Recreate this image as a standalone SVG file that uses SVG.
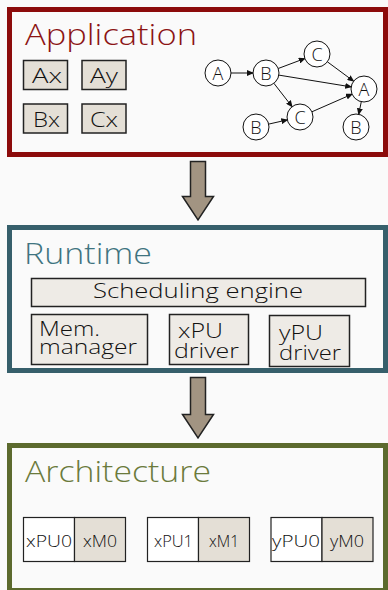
<svg xmlns="http://www.w3.org/2000/svg" width="388" height="590" viewBox="0 0 388 590">
  <style>
    text { font-family: "Open Sans", "Lato", "DejaVu Sans", sans-serif; font-weight: 300; fill: #111; }
    .title { font-size: 30px; }
    .item { fill: #e4dfd6; stroke: #222; stroke-width: 1.5; }
    .part { fill: #eeebe6; stroke: #222; stroke-width: 1.5; }
    .pu { fill: #ffffff; stroke: #222; stroke-width: 1.2; }
    .mem { fill: #e4dfd6; stroke: #222; stroke-width: 1.2; }
    .node circle { fill: #fff; stroke: #111; stroke-width: 1; }
    .node text { font-size: 18px; text-anchor: middle; }
    .edge { stroke: #111; stroke-width: 1; fill: none; marker-end: url(#tip); }
    .flow { fill: #a29482; stroke: #222; stroke-width: 1.5; stroke-linejoin: miter; }
    .lbl { font-size: 21px; }
    .rt { font-size: 20px; }
    .hw { font-size: 17px; }
  </style>
  <defs>
    <marker id="tip" markerUnits="userSpaceOnUse" markerWidth="7" markerHeight="6" refX="6" refY="3" orient="auto">
      <path d="M0,0 L7,3 L0,6 Z" fill="#111"/>
    </marker>
  </defs>

  <rect width="388" height="590" fill="#fafafa"/>

  <!-- Application layer -->
  <g id="application">
    <rect x="9.5" y="9.5" width="376" height="145" fill="#fafafa" stroke="#8c0b0b" stroke-width="5"/>
    <text class="title" x="25" y="45" style="fill:#8c1414" textLength="172" lengthAdjust="spacingAndGlyphs">Application</text>
    <g id="task-ax"><rect class="item" x="23.5" y="60.5" width="44" height="29"/><text class="lbl" x="32" y="83" textLength="30" lengthAdjust="spacingAndGlyphs">Ax</text></g>
    <g id="task-ay"><rect class="item" x="82" y="60.5" width="44" height="29"/><text class="lbl" x="90" y="83" textLength="28" lengthAdjust="spacingAndGlyphs">Ay</text></g>
    <g id="task-bx"><rect class="item" x="23.5" y="104" width="44" height="29"/><text class="lbl" x="33" y="127" textLength="27" lengthAdjust="spacingAndGlyphs">Bx</text></g>
    <g id="task-cx"><rect class="item" x="82" y="104" width="44" height="29"/><text class="lbl" x="90" y="127" textLength="28" lengthAdjust="spacingAndGlyphs">Cx</text></g>
  </g>

  <!-- Task graph edges -->
  <g id="graph-edges">
    <line class="edge" x1="231" y1="73" x2="253" y2="73"/>
    <line class="edge" x1="278.2" y1="68.5" x2="304.8" y2="58.5"/>
    <line class="edge" x1="278.8" y1="75.1" x2="351.2" y2="86.9"/>
    <line class="edge" x1="273.9" y1="83.3" x2="292.1" y2="106.7"/>
    <line class="edge" x1="327.4" y1="61.8" x2="353.6" y2="81.2"/>
    <line class="edge" x1="268.7" y1="124.1" x2="287.3" y2="119.9"/>
    <line class="edge" x1="311.9" y1="111.8" x2="352.1" y2="94.2"/>
    <line class="edge" x1="361.3" y1="101.7" x2="358.7" y2="114.3"/>
  </g>

  <!-- Task graph nodes -->
  <g id="g-a1" class="node"><circle cx="218" cy="73" r="13"/><text x="218" y="79.5">A</text></g>
  <g id="g-b1" class="node"><circle cx="266" cy="73" r="13"/><text x="266" y="79.5">B</text></g>
  <g id="g-c1" class="node"><circle cx="317" cy="54" r="13"/><text x="317" y="60.5">C</text></g>
  <g id="g-a2" class="node"><circle cx="364" cy="89" r="13"/><text x="364" y="95.5">A</text></g>
  <g id="g-b2" class="node"><circle cx="256" cy="127" r="13"/><text x="256" y="133.5">B</text></g>
  <g id="g-c2" class="node"><circle cx="300" cy="117" r="13"/><text x="300" y="123.5">C</text></g>
  <g id="g-b3" class="node"><circle cx="356" cy="127" r="13"/><text x="356" y="133.5">B</text></g>

  <!-- Layer arrows -->
  <g id="layer-arrows">
    <path class="flow" d="M190.5,161.5 H205.5 V196.5 H213.5 L198,220 L182.5,196.5 H190.5 Z"/>
    <path class="flow" d="M190.5,377.5 H205.5 V414.5 H213.5 L198,438 L182.5,414.5 H190.5 Z"/>
  </g>

  <!-- Runtime layer -->
  <g id="runtime">
    <rect x="9.5" y="227.5" width="376" height="143" fill="#fafafa" stroke="#365f6b" stroke-width="5"/>
    <text class="title" x="24" y="264" style="fill:#3f7480" textLength="128" lengthAdjust="spacingAndGlyphs">Runtime</text>
    <g id="scheduling-engine"><rect class="part" x="31.5" y="278.5" width="334" height="28"/><text class="rt" x="93" y="298" textLength="210" lengthAdjust="spacingAndGlyphs">Scheduling engine</text></g>
    <g id="mem-manager"><rect class="part" x="31.5" y="314.5" width="116" height="50"/><text class="rt" x="39" y="336" textLength="61" lengthAdjust="spacingAndGlyphs">Mem.</text><text class="rt" x="39" y="354" textLength="98" lengthAdjust="spacingAndGlyphs">manager</text></g>
    <g id="xpu-driver"><rect class="part" x="169.5" y="314.5" width="79" height="50"/><text class="rt" x="178" y="338" textLength="45" lengthAdjust="spacingAndGlyphs">xPU</text><text class="rt" x="174" y="358" textLength="65" lengthAdjust="spacingAndGlyphs">driver</text></g>
    <g id="ypu-driver"><rect class="part" x="269.5" y="315.5" width="80" height="51"/><text class="rt" x="279" y="340" textLength="44" lengthAdjust="spacingAndGlyphs">yPU</text><text class="rt" x="279" y="360" textLength="62" lengthAdjust="spacingAndGlyphs">driver</text></g>
  </g>

  <!-- Architecture layer -->
  <g id="architecture">
    <rect x="9.5" y="445.5" width="376" height="145" fill="#fafafa" stroke="#5c6a2e" stroke-width="5"/>
    <text class="title" x="25" y="482" style="fill:#6b7a3c" textLength="186" lengthAdjust="spacingAndGlyphs">Architecture</text>
    <g id="unit-x0">
      <rect class="pu" x="23.5" y="517.5" width="51" height="44"/><text class="hw" x="26" y="547" textLength="46" lengthAdjust="spacingAndGlyphs">xPU0</text>
      <rect class="mem" x="74.5" y="517.5" width="51" height="44"/><text class="hw" x="83" y="547" textLength="34" lengthAdjust="spacingAndGlyphs">xM0</text>
    </g>
    <g id="unit-x1">
      <rect class="pu" x="147.5" y="517.5" width="51" height="44"/><text class="hw" x="154" y="547" textLength="39" lengthAdjust="spacingAndGlyphs">xPU1</text>
      <rect class="mem" x="198.5" y="517.5" width="51" height="44"/><text class="hw" x="209" y="547" textLength="30" lengthAdjust="spacingAndGlyphs">xM1</text>
    </g>
    <g id="unit-y0">
      <rect class="pu" x="271" y="517.5" width="51" height="44"/><text class="hw" x="272" y="547" textLength="48" lengthAdjust="spacingAndGlyphs">yPU0</text>
      <rect class="mem" x="322" y="517.5" width="51" height="44"/><text class="hw" x="330" y="547" textLength="34" lengthAdjust="spacingAndGlyphs">yM0</text>
    </g>
  </g>
</svg>
